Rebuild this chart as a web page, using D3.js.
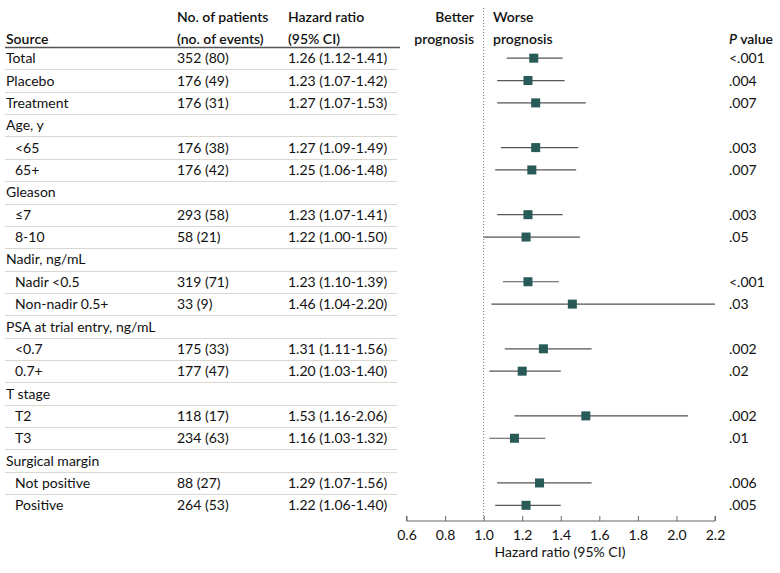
<!DOCTYPE html>
<html><head><meta charset="utf-8">
<script src="https://cdn.jsdelivr.net/npm/d3@7"></script>
<style>body{margin:0;background:#fff}svg{display:block}text{font-family:Lato,"Noto Sans",sans-serif;font-size:14px;fill:#111;font-variant-numeric:tabular-nums}</style>
</head><body><svg id="c" width="780" height="573"></svg>
<script>
const labels = ["Total","Placebo","Treatment","Age, y","<65","65+","Gleason","≤7","8-10","Nadir, ng/mL","Nadir <0.5","Non-nadir 0.5+","PSA at trial entry, ng/mL","<0.7","0.7+","T stage","T2","T3","Surgical margin","Not positive","Positive"];
const indent = [0,0,0,0,1,1,0,1,1,0,1,1,0,1,1,0,1,1,0,1,1];
const patients = ["352 (80)","176 (49)","176 (31)","","176 (38)","176 (42)","","293 (58)","58 (21)","","319 (71)","33 (9)","","175 (33)","177 (47)","","118 (17)","234 (63)","","88 (27)","264 (53)"];
const hr = [1.26,1.23,1.27,null,1.27,1.25,null,1.23,1.22,null,1.23,1.46,null,1.31,1.20,null,1.53,1.16,null,1.29,1.22];
const lo = [1.12,1.07,1.07,null,1.09,1.06,null,1.07,1.00,null,1.10,1.04,null,1.11,1.03,null,1.16,1.03,null,1.07,1.06];
const hi = [1.41,1.42,1.53,null,1.49,1.48,null,1.41,1.50,null,1.39,2.20,null,1.56,1.40,null,2.06,1.32,null,1.56,1.40];
const pvals = ["<.001",".004",".007","",".003",".007","",".003",".05","","<.001",".03","",".002",".02","",".002",".01","",".006",".005"];
const xTicks = [0.6,0.8,1.0,1.2,1.4,1.6,1.8,2.0,2.2];

const svg = d3.select("#c");
const x = d3.scaleLinear().domain([0.6,2.2]).range([406.5,715]);
const y = d3.scaleBand().domain(d3.range(labels.length)).range([47,516.5]);
const yc = i => y(i) + y.bandwidth()/2;
const fmt = v => v.toFixed(2);

// headers
const hdr = svg.append("g").style("font-weight","600");
hdr.append("text").attr("x",6).attr("y",44).text("Source");
hdr.append("text").attr("x",177).attr("y",22).text("No. of patients");
hdr.append("text").attr("x",177).attr("y",44).text("(no. of events)");
hdr.append("text").attr("x",288).attr("y",22).text("Hazard ratio");
hdr.append("text").attr("x",288).attr("y",44).text("(95% CI)");
hdr.append("text").attr("x",474).attr("y",22).attr("text-anchor","end").text("Better");
hdr.append("text").attr("x",474).attr("y",44).attr("text-anchor","end").text("prognosis");
hdr.append("text").attr("x",493).attr("y",22).text("Worse");
hdr.append("text").attr("x",493).attr("y",44).text("prognosis");
const pv = hdr.append("text").attr("x",729).attr("y",44);
pv.append("tspan").style("font-style","italic").text("P");
pv.append("tspan").text(" value");

svg.append("line").attr("x1",5).attr("x2",400).attr("y1",47.5).attr("y2",47.5).attr("stroke","#555").attr("stroke-width",1.5);

// separators
svg.append("g").selectAll("line").data(d3.range(labels.length-1)).join("line")
  .attr("x1",5).attr("x2",397)
  .attr("y1",i=>Math.round(y(i)+y.bandwidth())+0.5).attr("y2",i=>Math.round(y(i)+y.bandwidth())+0.5)
  .attr("stroke","#d8d8d0").attr("stroke-width",1);

const rows = svg.append("g").selectAll("g").data(d3.range(labels.length)).join("g");
rows.append("text").attr("x",i=>indent[i]?15:6).attr("y",i=>yc(i)).attr("dy","0.36em").text(i=>labels[i]);
rows.append("text").attr("x",177).attr("y",i=>yc(i)).attr("dy","0.36em").text(i=>patients[i]);
rows.append("text").attr("x",288).attr("y",i=>yc(i)).attr("dy","0.36em").text(i=>hr[i]==null?"":`${fmt(hr[i])} (${fmt(lo[i])}-${fmt(hi[i])})`);
rows.append("text").attr("x",729).attr("y",i=>yc(i)).attr("dy","0.36em").text(i=>pvals[i]);

// reference line
svg.append("line").attr("x1",x(1)).attr("x2",x(1)).attr("y1",8).attr("y2",521)
  .attr("stroke","#777").attr("stroke-dasharray","1,2").attr("stroke-width",1);

const est = d3.range(labels.length).filter(i=>hr[i]!=null);
svg.append("g").selectAll("line").data(est).join("line")
  .attr("x1",i=>x(lo[i])).attr("x2",i=>x(hi[i])).attr("y1",i=>yc(i)).attr("y2",i=>yc(i))
  .attr("stroke","#555").attr("stroke-width",1.2);
const s = 9;
svg.append("g").selectAll("rect").data(est).join("rect")
  .attr("x",i=>x(hr[i])-s/2).attr("y",i=>yc(i)-s/2).attr("width",s).attr("height",s)
  .attr("fill","#285a57");

// axis
const ax = svg.append("g").attr("transform","translate(0,521)")
  .call(d3.axisBottom(x).tickValues(xTicks).tickFormat(d3.format(".1f")).tickSize(5).tickSizeOuter(0));
ax.select(".domain").attr("stroke","#666").attr("d",`M${x(0.6)},-5V0H${x(2.2)}V-5`);
ax.selectAll(".tick line").attr("stroke","#666").attr("y2",-5);
ax.selectAll(".tick text").attr("y",9).style("font-family","Lato,'Noto Sans',sans-serif").style("font-size","14px").attr("fill","#111");
svg.append("text").attr("x",560).attr("y",557).attr("text-anchor","middle").text("Hazard ratio (95% CI)");
</script></body></html>
